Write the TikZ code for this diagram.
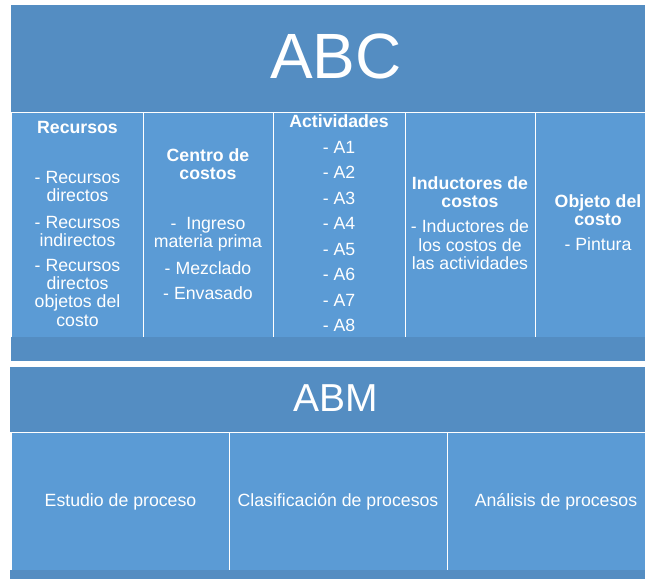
\documentclass[tikz,border=0pt]{standalone}
\usepackage{fontspec}
\setmainfont{Liberation Sans}
\definecolor{hdrblue}{RGB}{84,141,194}
\definecolor{cellblue}{RGB}{91,155,213}

\begin{document}
\begin{tikzpicture}[x=1pt,y=-1pt,
    txt/.style={text=white,font=\fontsize{17.7}{18.3}\selectfont,align=center,inner sep=0pt,anchor=base},
    hd/.style={txt,font=\fontsize{17.7}{17.8}\selectfont\bfseries},
    sep/.style={white,line width=1pt}]
            \useasboundingbox (0,0) rectangle (645,579);
            \clip (0,0) rectangle (645,579);

            % ABC block
            \fill[hdrblue] (11,5) rectangle (661,112);
            \fill[cellblue] (12,113) rectangle (661,337);
            \fill[hdrblue] (11,337) rectangle (661,361);
            \draw[sep] (11,112.5) -- (661,112.5);
            \draw[sep,line width=0.6pt] (11.5,113) -- (11.5,337);
            \foreach \x in {143,273,405,535}
                \draw[sep] (\x,113) -- (\x,337);

            \node[txt,font=\fontsize{64}{64}\selectfont] (abc) at (336,78) {ABC};

            % positions are baselines of the last line
            \node[hd] (rec) at (77.5,133) {Recursos};
            \node[txt] (rec1) at (77.5,201.7) {- Recursos\\directos};
            \node[txt] (rec2) at (77.5,246.7) {- Recursos\\indirectos};
            \node[txt] (rec3) at (77.5,326) {- Recursos\\directos\\objetos del\\costo};

            \node[hd] (cc) at (208,179) {Centro de\\costos};
            \node[txt] (cc1) at (208,247.7) {-\ \ Ingreso\\materia prima};
            \node[txt] (cc2) at (208,274) {- Mezclado};
            \node[txt] (cc3) at (208,299.3) {- Envasado};

            \node[hd] (act) at (339,127.3) {Actividades};
            \foreach \i in {1,...,8}
                \node[txt] (a\i) at (339,{153.3+25.5*(\i-1)}) {- A\i};

            \node[hd] (ind) at (470,207.7) {Inductores de\\costos};
            \node[txt] (ind1) at (470,269.3) {- Inductores de\\los costos de\\las actividades};

            \node[hd] (obj) at (598,225.7) {Objeto del\\costo};
            \node[txt] (obj1) at (598,250.7) {- Pintura};

            % ABM block
            \fill[hdrblue] (10,367) rectangle (661,432);
            \fill[cellblue] (12,433) rectangle (661,570);
            \fill[hdrblue] (10,570) rectangle (661,579);
            \draw[sep] (10,432.5) -- (661,432.5);
            \draw[sep,line width=0.6pt] (11.5,433) -- (11.5,570);
            \foreach \x in {229,447}
                \draw[sep] (\x,433) -- (\x,570);

            \node[txt,font=\fontsize{39}{39}\selectfont] (abm) at (336,411.7) {ABM};

            \node[txt] (est) at (120.5,506) {Estudio de proceso};
            \node[txt] (cla) at (338,506) {Clasificación de procesos};
            \node[txt] (ana) at (556,506) {Análisis de procesos};

        \end{tikzpicture}
\end{document}
